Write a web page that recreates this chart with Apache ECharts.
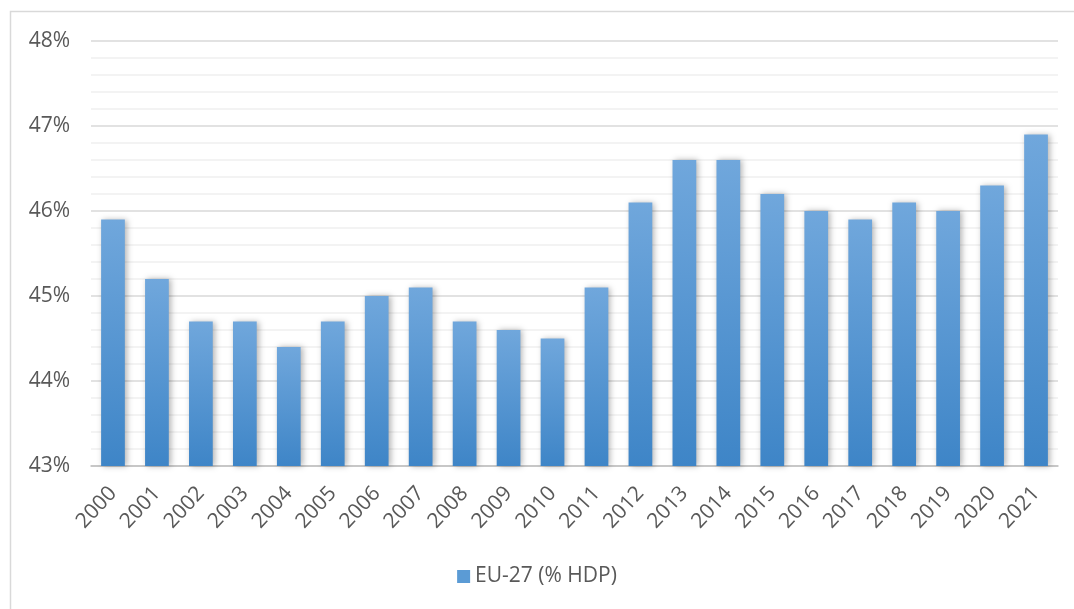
<!DOCTYPE html>
<html>
<head>
<meta charset="utf-8">
<script src="https://cdn.jsdelivr.net/npm/echarts@6/dist/echarts.min.js"></script>
<style>
  html, body { margin: 0; padding: 0; background: #fff; }
  #chart { width: 1074px; height: 609px; }
</style>
</head>
<body>
<div id="chart"></div>
<script>
// Years on the category axis
const years = ['2000','2001','2002','2003','2004','2005','2006','2007','2008','2009','2010',
               '2011','2012','2013','2014','2015','2016','2017','2018','2019','2020','2021'];
// EU-27 share of GDP, percent
const values = [45.9, 45.2, 44.7, 44.7, 44.4, 44.7, 45.0, 45.1, 44.7, 44.6, 44.5,
                45.1, 46.1, 46.6, 46.6, 46.2, 46.0, 45.9, 46.1, 46.0, 46.3, 46.9];
const seriesName = 'EU-27 (% HDP)';

const font = '"Open Sans", "Noto Sans", sans-serif';
const textColor = '#595959';

const barColor = new echarts.graphic.LinearGradient(0, 0, 0, 1, [
  { offset: 0, color: '#70a7dc' },
  { offset: 1, color: '#3e85c7' }
]);

const chart = echarts.init(document.getElementById('chart'));
chart.setOption({
  backgroundColor: '#ffffff',
  animation: false,
  graphic: [{
    type: 'rect',
    shape: { x: 10.5, y: 11.5, width: 1080, height: 620 },
    style: { fill: 'none', stroke: '#d9d9d9', lineWidth: 1.5 },
    silent: true
  }],
  grid: { left: 91, right: 16, top: 41, bottom: 143, containLabel: false },
  legend: {
    bottom: 17,
    left: 'center',
    itemWidth: 13,
    itemHeight: 13,
    itemGap: 6,
    icon: 'rect',
    textStyle: { fontFamily: font, fontSize: 21, color: textColor },
    data: [{ name: seriesName, itemStyle: { color: '#5b9bd5' } }]
  },
  xAxis: {
    type: 'category',
    data: years,
    axisLine: { show: true, lineStyle: { color: '#bfbfbf', width: 1.5 } },
    axisTick: { show: false },
    axisLabel: {
      rotate: 47,
      margin: 24,
      interval: 0,
      fontFamily: font,
      fontSize: 21,
      color: textColor
    }
  },
  yAxis: {
    type: 'value',
    min: 43,
    max: 48,
    interval: 1,
    axisLine: { show: false },
    axisTick: { show: false },
    axisLabel: {
      margin: 21,
      fontFamily: font,
      fontSize: 21,
      color: textColor,
      formatter: v => v + '%'
    },
    splitLine: { show: true, lineStyle: { color: '#d9d9d9', width: 1.5 } },
    minorTick: { show: false, splitNumber: 5 },
    minorSplitLine: { show: true, lineStyle: { color: '#f0f0f0', width: 1.5 } }
  },
  series: [{
    name: seriesName,
    type: 'bar',
    data: values,
    barWidth: '54%',
    itemStyle: {
      color: barColor,
      shadowColor: 'rgba(0,0,0,0.3)',
      shadowBlur: 6,
      shadowOffsetX: 2,
      shadowOffsetY: 0
    }
  }]
});
</script>
</body>
</html>
